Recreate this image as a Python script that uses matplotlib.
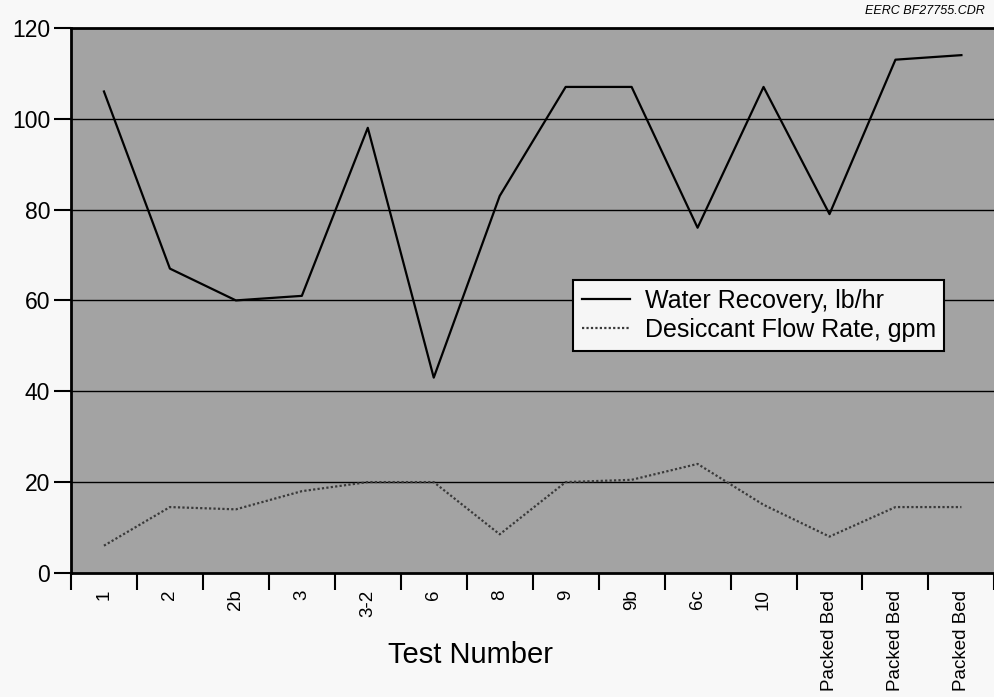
#!/usr/bin/env python3
import numpy as np
import matplotlib
matplotlib.use("Agg")
import matplotlib.pyplot as plt

# test ids along the x axis
tests = ["1", "2", "2b", "3", "3-2", "6", "8", "9", "9b", "6c", "10",
         "Packed Bed", "Packed Bed", "Packed Bed"]

# water recovery, lb/hr
water = [106, 67, 60, 61, 98, 43, 83, 107, 107, 76, 107, 79, 113, 114]

# desiccant flow rate, gpm
desiccant = [6, 14.5, 14, 18, 20, 20, 8.5, 20, 20.5, 24, 15, 8, 14.5, 14.5]

y_ticks = [0, 20, 40, 60, 80, 100, 120]

plt.rcParams["font.family"] = ["Liberation Sans", "DejaVu Sans"]

fig = plt.figure(figsize=(9.94, 6.97), dpi=100, facecolor="#f8f8f8")
ax = fig.add_axes([0.0714, 0.178, 0.929, 0.782])
ax.set_facecolor("#a3a3a3")

x = np.arange(len(tests))
ax.plot(x, water, color="black", lw=1.6, label="Water Recovery, lb/hr", zorder=3)
ax.plot(x, desiccant, color="#3a3a3a", lw=1.6, ls=(0, (1, 1)),
        label="Desiccant Flow Rate, gpm", zorder=3)

ax.set_xlim(-0.5, len(tests) - 0.5)
ax.set_ylim(0, 120)
ax.set_yticks(y_ticks)
ax.tick_params(axis="y", labelsize=16.5, length=12, width=1.5, direction="out", pad=3)
for v in y_ticks[1:-1]:
    ax.axhline(v, color="black", lw=1.0, zorder=2)

# boundary ticks between categories, labels at category centres
ax.set_xticks(np.arange(-0.5, len(tests)))
ax.set_xticklabels([])
ax.tick_params(axis="x", which="major", length=12, width=1.5, direction="out")
ax.set_xticks(x, minor=True)
ax.set_xticklabels(tests, minor=True, rotation=90, fontsize=13.5, va="top", ha="center")
ax.tick_params(axis="x", which="minor", length=0, pad=12)

for side in ["left", "bottom", "top"]:
    ax.spines[side].set_linewidth(2)
ax.spines["right"].set_visible(False)

leg = ax.legend(loc="upper left", bbox_to_anchor=(0.544, 0.537), fontsize=18,
                frameon=True, fancybox=False, handlelength=1.9, borderpad=0.35,
                labelspacing=0.2, handletextpad=0.6, borderaxespad=0)
leg.get_frame().set_edgecolor("black")
leg.get_frame().set_facecolor("#f6f6f6")
leg.get_frame().set_alpha(1)
leg.get_frame().set_linewidth(1.5)

fig.text(470 / 994, 1 - 655 / 697, "Test Number", fontsize=21, ha="center", va="center")
fig.text(985 / 994, 1 - 11 / 697, "EERC BF27755.CDR", fontsize=9, style="italic",
         ha="right", va="center")

fig.savefig("out.png", dpi=100, facecolor=fig.get_facecolor())
